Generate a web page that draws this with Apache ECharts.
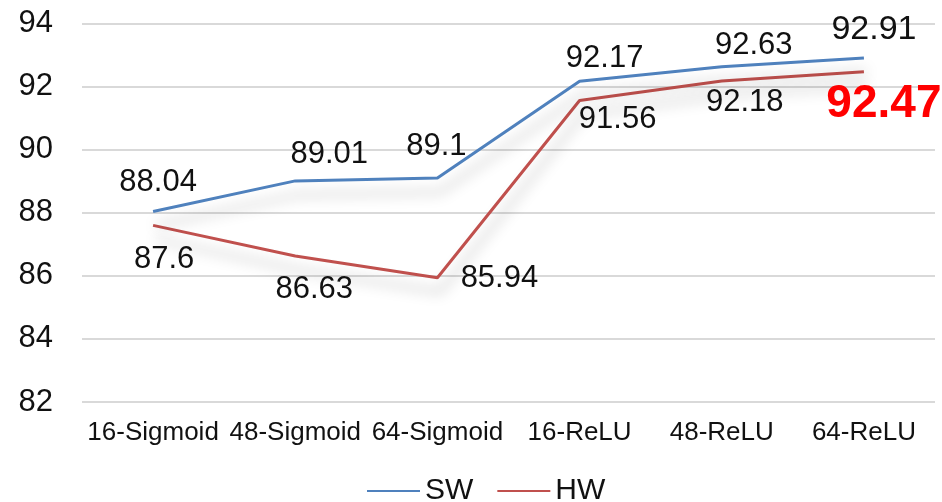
<!DOCTYPE html>
<html>
<head>
<meta charset="utf-8">
<script src="https://cdn.jsdelivr.net/npm/echarts@6/dist/echarts.min.js"></script>
<style>
  html, body { margin: 0; padding: 0; background: #fff; }
  #chart { width: 942px; height: 502px; }
</style>
</head>
<body>
<div id="chart"></div>
<script>
// Accuracy by hidden-layer size and activation
const categories = ['16-Sigmoid', '48-Sigmoid', '64-Sigmoid', '16-ReLU', '48-ReLU', '64-ReLU'];
const swValues = [88.04, 89.01, 89.1, 92.17, 92.63, 92.91];
const hwValues = [87.6, 86.63, 85.94, 91.56, 92.18, 92.47];

// Per-point label nudges (px) so labels sit clear of the lines
const swLabelOffsets = [[5, -29], [34, -26], [-1, -32], [25, -23], [32, -21], [10, -28]];
const hwLabelOffsets = [[11, 34], [19, 33], [62, 1], [38, 19], [23, 22], [20, 33]];

const FONT = '"Liberation Sans", Arial, sans-serif';
const BLUE = '#4F81BD';
const RED = '#C0504D';

function buildData(values, offsets, isHW) {
  return values.map((v, i) => {
    const item = { value: v, label: { offset: offsets[i] } };
    if (i === values.length - 1) {
      if (isHW) {
        item.label.color = '#FF0000';
        item.label.fontSize = 46;
        item.label.fontWeight = 'bold';
      } else {
        item.label.fontSize = 34;
      }
    }
    return item;
  });
}

const lineShadow = {
  shadowColor: 'rgba(0,0,0,0.28)',
  shadowBlur: 14,
  shadowOffsetX: 3,
  shadowOffsetY: 14
};

function lineSeries(name, values, offsets, color, isHW, z) {
  return {
    name: name,
    type: 'line',
    data: buildData(values, offsets, isHW),
    showSymbol: true,
    symbol: 'circle',
    symbolSize: 0,
    color: color,
    itemStyle: { color: color },
    lineStyle: Object.assign({ color: color, width: 3 }, lineShadow),
    label: {
      show: true,
      position: 'inside',
      align: 'center',
      verticalAlign: 'middle',
      fontFamily: FONT,
      fontSize: 31,
      color: '#111'
    },
    z: z
  };
}

const chart = echarts.init(document.getElementById('chart'));
chart.setOption({
  animation: false,
  backgroundColor: '#fff',
  grid: { left: 82, right: 7, top: 23.5, bottom: 100, containLabel: false },
  legend: {
    data: ['SW', 'HW'],
    left: 367,
    top: 476,
    padding: 0,
    itemWidth: 53,
    itemHeight: 30,
    itemGap: 24,
    icon: 'path://M0,14 L53,14 L53,16 L0,16 Z',
    textStyle: { fontFamily: FONT, fontSize: 30, color: '#111' }
  },
  xAxis: {
    type: 'category',
    data: categories,
    boundaryGap: true,
    axisLine: { show: false },
    axisTick: { show: false },
    axisLabel: { fontFamily: FONT, fontSize: 26, color: '#111', margin: 18, interval: 0 }
  },
  yAxis: {
    type: 'value',
    min: 82,
    max: 94,
    interval: 2,
    axisLine: { show: false },
    axisTick: { show: false },
    axisLabel: { fontFamily: FONT, fontSize: 31, color: '#111', margin: 29 },
    splitLine: { lineStyle: { color: '#d9d9d9', width: 2 } }
  },
  series: [
    lineSeries('SW', swValues, swLabelOffsets, BLUE, false, 3),
    lineSeries('HW', hwValues, hwLabelOffsets, RED, true, 2)
  ]
});
</script>
</body>
</html>
